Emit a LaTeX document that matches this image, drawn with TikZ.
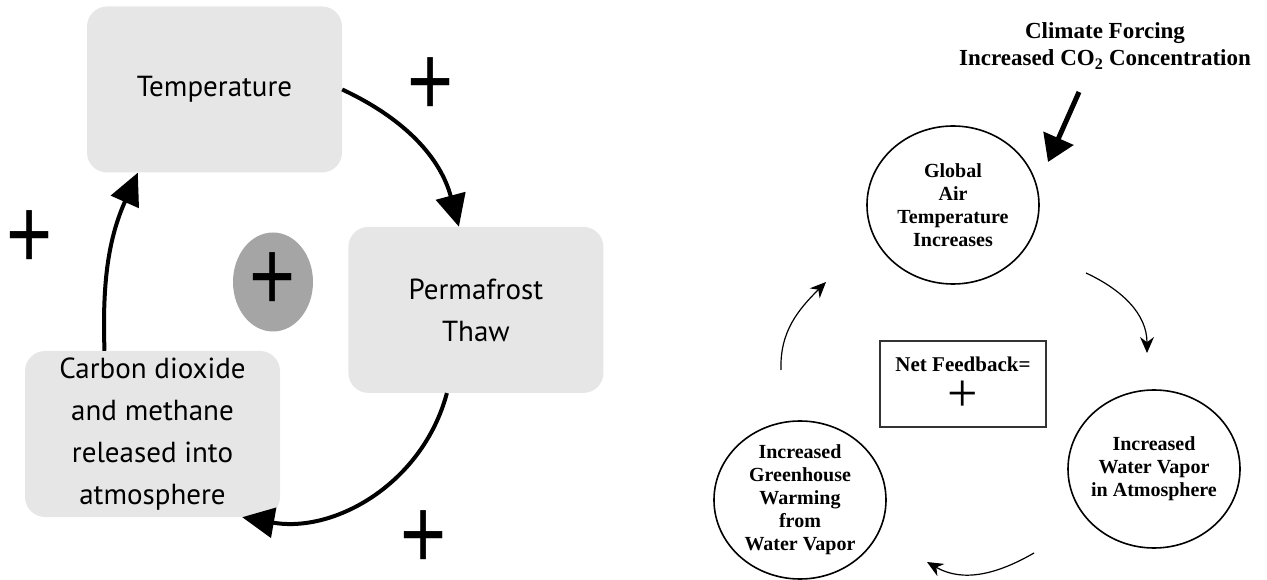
\documentclass[tikz,border=0pt]{standalone}
\usepackage{xcolor}
\usepackage{fontspec}
\usepackage{tikz}
\usetikzlibrary{shapes.geometric, arrows.meta, positioning}
\newfontfamily\ptsans{PT Sans}
\newfontfamily\arialfont{Liberation Sans}
\newfontfamily\timesfont{Liberation Serif}
\definecolor{boxgray}{RGB}{230,230,230}
\definecolor{ovalgray}{RGB}{165,165,165}
\newcommand{\tallplus}{\scalebox{1}[1.27]{+}}

\begin{document}
\begin{tikzpicture}[x=1pt, y=1pt,
    box/.style={rounded corners=20pt, fill=boxgray, minimum width=255pt, minimum height=166pt, align=center, inner sep=0pt, font=\ptsans\fontsize{29}{42}\selectfont},
    loop/.style={line width=4pt, -{Triangle[length=32pt, width=30pt]}},
    sign/.style={inner sep=0pt, font=\arialfont\fontsize{79}{79}\selectfont},
    bubble/.style={draw, line width=1.6pt, ellipse, minimum width=172pt, minimum height=158pt, inner xsep=-15pt, inner ysep=-15pt, align=center, font=\timesfont\bfseries\fontsize{20}{23}\selectfont},
    link/.style={line width=1.2pt, -{Stealth[length=16pt, width=14pt]}}
]
    \useasboundingbox (0,0) rectangle (1267,579);

    % Permafrost loop
    \node[box] (temp) at (214.5,489.5) {Temperature};
    \node[box, below right=54pt and 6pt of temp] (perma) {Permafrost\\Thaw};
    \node[box] (carbon) at (152.5,145) {Carbon dioxide\\and methane\\released into\\atmosphere};
    \node[ellipse, fill=ovalgray, minimum width=80pt, minimum height=99pt, sign] (core) at (273,297) {\tallplus};
    \node[sign] (signa) at (431,492) {\tallplus};
    \node[sign] (signb) at (30,339) {\tallplus};
    \node[sign] (signc) at (424,39) {\tallplus};

    \draw[loop] (temp.east) to[out=-25, in=105] ([xshift=-17pt]perma.north);
    \draw[loop] ([xshift=-29pt]perma.south) to[out=-105, in=-10] ([xshift=-38pt]carbon.south east);
    \draw[loop] ([xshift=-48pt]carbon.north) to[out=92, in=-114] ([xshift=51pt]temp.south west);

    % Water vapor loop
    \node[align=center, font=\timesfont\bfseries\fontsize{23}{27}\selectfont] (forcing) at (1105,533) {Climate Forcing\\Increased CO\textsubscript{2} Concentration};
    \node[bubble] (glob) at (953,374) {Global\\Air\\Temperature\\Increases};
    \node[bubble] (water) at (1154,110) {Increased\\Water Vapor\\in Atmosphere};
    \node[bubble] (green) at (800,79) {Increased\\Greenhouse\\Warming\\from\\Water Vapor};
    \node[draw=black!80, line width=1.3pt, minimum width=166pt, minimum height=86pt, align=center, font=\timesfont\bfseries\fontsize{21}{25}\selectfont] (net) at (963,195) {Net Feedback=\\[8pt]{\mdseries\fontsize{54}{40}\selectfont +}};
    \coordinate (push) at (1079,487);

    \draw[line width=5pt, -{Triangle[length=26pt, width=32pt]}] (push) -- ([shift={(95pt,43pt)}]glob.center);
    \draw[link] ([shift={(133pt,-68pt)}]glob.center) to[out=-25, in=90] ([shift={(-7pt,116pt)}]water.center);
    \draw[link] ([shift={(-120pt,-84pt)}]water.center) to[out=-150, in=-30] ([shift={(127pt,-62pt)}]green.center);
    \draw[link] ([shift={(-19pt,130pt)}]green.center) to[out=92, in=225] ([shift={(-127pt,-77pt)}]glob.center);
\end{tikzpicture}
\end{document}
